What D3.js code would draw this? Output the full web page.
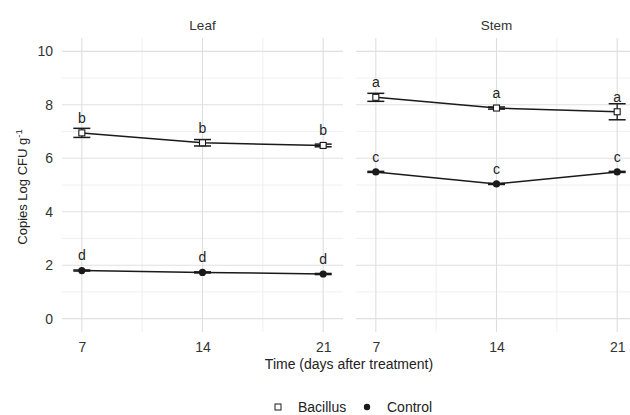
<!DOCTYPE html>
<html>
<head>
<meta charset="utf-8">
<script src="https://cdn.jsdelivr.net/npm/d3@7"></script>
<style>
  html, body { margin: 0; padding: 0; background: #fff; }
  svg { display: block; font-family: "Liberation Sans", Arial, Helvetica, sans-serif; }
</style>
</head>
<body>
<svg id="chart" width="630" height="415"></svg>
<script>
// ---- data ----
const days = [7, 14, 21];
const tissues = ["Leaf", "Stem"];
const treatments = ["Bacillus", "Control"];
const bacillusLeaf = [6.95, 6.58, 6.48];
const bacillusLeafSE = [0.17, 0.12, 0.05];
const controlLeaf = [1.80, 1.73, 1.67];
const controlLeafSE = [0.02, 0.02, 0.02];
const bacillusStem = [8.28, 7.88, 7.74];
const bacillusStemSE = [0.15, 0.04, 0.30];
const controlStem = [5.49, 5.04, 5.49];
const controlStemSE = [0.02, 0.02, 0.02];
const lettersBacillusLeaf = ["b", "b", "b"];
const lettersControlLeaf = ["d", "d", "d"];
const lettersBacillusStem = ["a", "a", "a"];
const lettersControlStem = ["c", "c", "c"];
const yTicks = [0, 2, 4, 6, 8, 10];
const xTicks = [7, 14, 21];

const seriesByTissue = {
  Leaf: [
    { trt: "Bacillus", mean: bacillusLeaf, se: bacillusLeafSE, letters: lettersBacillusLeaf },
    { trt: "Control", mean: controlLeaf, se: controlLeafSE, letters: lettersControlLeaf }
  ],
  Stem: [
    { trt: "Bacillus", mean: bacillusStem, se: bacillusStemSE, letters: lettersBacillusStem },
    { trt: "Control", mean: controlStem, se: controlStemSE, letters: lettersControlStem }
  ]
};

// ---- layout ----
const svg = d3.select("#chart");
const panelTop = 38, panelBottom = 332;
const panels = { Leaf: [62, 343], Stem: [356, 637] };
const y = d3.scaleLinear().domain([-0.5, 10.5]).range([panelBottom, panelTop]);
const ink = "#1a1a1a";
const textCol = "#222";

tissues.forEach(t => {
  const x = d3.scaleLinear().domain([5.85, 22.15]).range(panels[t]);
  const g = svg.append("g");

  // minor grid
  [10.5, 17.5].forEach(v => {
    g.append("line").attr("x1", x(v)).attr("x2", x(v)).attr("y1", panelTop).attr("y2", panelBottom)
      .attr("stroke", "#ececec").attr("stroke-width", 0.8);
  });
  [1, 3, 5, 7, 9].forEach(v => {
    g.append("line").attr("x1", panels[t][0]).attr("x2", panels[t][1]).attr("y1", y(v)).attr("y2", y(v))
      .attr("stroke", "#ececec").attr("stroke-width", 0.8);
  });
  // major grid
  xTicks.forEach(v => {
    g.append("line").attr("x1", x(v)).attr("x2", x(v)).attr("y1", panelTop).attr("y2", panelBottom)
      .attr("stroke", "#dedede").attr("stroke-width", 1.1);
  });
  yTicks.forEach(v => {
    g.append("line").attr("x1", panels[t][0]).attr("x2", panels[t][1]).attr("y1", y(v)).attr("y2", y(v))
      .attr("stroke", "#e0e0e0").attr("stroke-width", 1.1);
  });

  // strip label
  g.append("text").attr("x", (x(7) + x(21)) / 2).attr("y", 30).attr("text-anchor", "middle")
    .attr("font-size", 13.5).attr("fill", "#333").text(t);

  // x axis tick labels
  const xAxis = d3.axisBottom(x).tickValues(xTicks).tickSize(0).tickPadding(0);
  const xa = g.append("g").attr("transform", `translate(0, ${panelBottom + 10})`).call(xAxis);
  xa.select(".domain").remove();
  xa.selectAll("text").attr("font-size", 14).attr("fill", "#333").attr("font-family", "Liberation Sans, Arial, sans-serif");

  // series
  seriesByTissue[t].forEach(s => {
    const pts = days.map((d, i) => ({ d, m: s.mean[i], se: s.se[i], l: s.letters[i] }));
    const line = d3.line().x(p => x(p.d)).y(p => y(p.m));
    g.append("path").attr("d", line(pts)).attr("fill", "none").attr("stroke", ink).attr("stroke-width", 1.5);
    // error bars
    pts.forEach(p => {
      const cw = 8.5;
      g.append("line").attr("x1", x(p.d)).attr("x2", x(p.d)).attr("y1", y(p.m - p.se)).attr("y2", y(p.m + p.se))
        .attr("stroke", ink).attr("stroke-width", 1.3);
      [p.m - p.se, p.m + p.se].forEach(v => {
        g.append("line").attr("x1", x(p.d) - cw).attr("x2", x(p.d) + cw).attr("y1", y(v)).attr("y2", y(v))
          .attr("stroke", ink).attr("stroke-width", 1.5);
      });
    });
    // points
    if (s.trt === "Bacillus") {
      g.selectAll(null).data(pts).enter().append("rect")
        .attr("x", p => x(p.d) - 3).attr("y", p => y(p.m) - 3).attr("width", 6).attr("height", 6)
        .attr("fill", "#fff").attr("stroke", ink).attr("stroke-width", 1.1);
    } else {
      g.selectAll(null).data(pts).enter().append("circle")
        .attr("cx", p => x(p.d)).attr("cy", p => y(p.m)).attr("r", 3.6).attr("fill", ink);
    }
    // letters
    g.selectAll(null).data(pts).enter().append("text")
      .attr("x", p => x(p.d)).attr("y", p => y(p.m) - 15).attr("dy", "0.35em")
      .attr("text-anchor", "middle").attr("font-size", 14).attr("fill", textCol).text(p => p.l);
  });
});

// y axis labels (left of Leaf panel)
const yAxis = d3.axisLeft(y).tickValues(yTicks).tickSize(0).tickPadding(0);
const ya = svg.append("g").attr("transform", `translate(${panels.Leaf[0] - 9}, 0)`).call(yAxis);
ya.select(".domain").remove();
ya.selectAll("text").attr("font-size", 14).attr("fill", "#333").attr("font-family", "Liberation Sans, Arial, sans-serif");

// y title
const yt = svg.append("text").attr("transform", "translate(27, 187) rotate(-90)")
  .attr("text-anchor", "middle").attr("font-size", 13).attr("fill", textCol);
yt.append("tspan").text("Copies Log CFU g");
yt.append("tspan").attr("dy", -5).attr("font-size", 9.5).text("-1");

// x title
svg.append("text").attr("x", 349).attr("y", 369).attr("text-anchor", "middle")
  .attr("font-size", 14).attr("fill", textCol).text("Time (days after treatment)");

// legend
const leg = svg.append("g");
leg.append("rect").attr("x", 275).attr("y", 404).attr("width", 6).attr("height", 6)
  .attr("fill", "#fff").attr("stroke", ink).attr("stroke-width", 1);
leg.append("text").attr("x", 298).attr("y", 412).attr("font-size", 14).attr("fill", textCol).text(treatments[0]);
leg.append("circle").attr("cx", 367).attr("cy", 407).attr("r", 3.2).attr("fill", ink);
leg.append("text").attr("x", 387).attr("y", 412).attr("font-size", 14).attr("fill", textCol).text(treatments[1]);
</script>
</body>
</html>
